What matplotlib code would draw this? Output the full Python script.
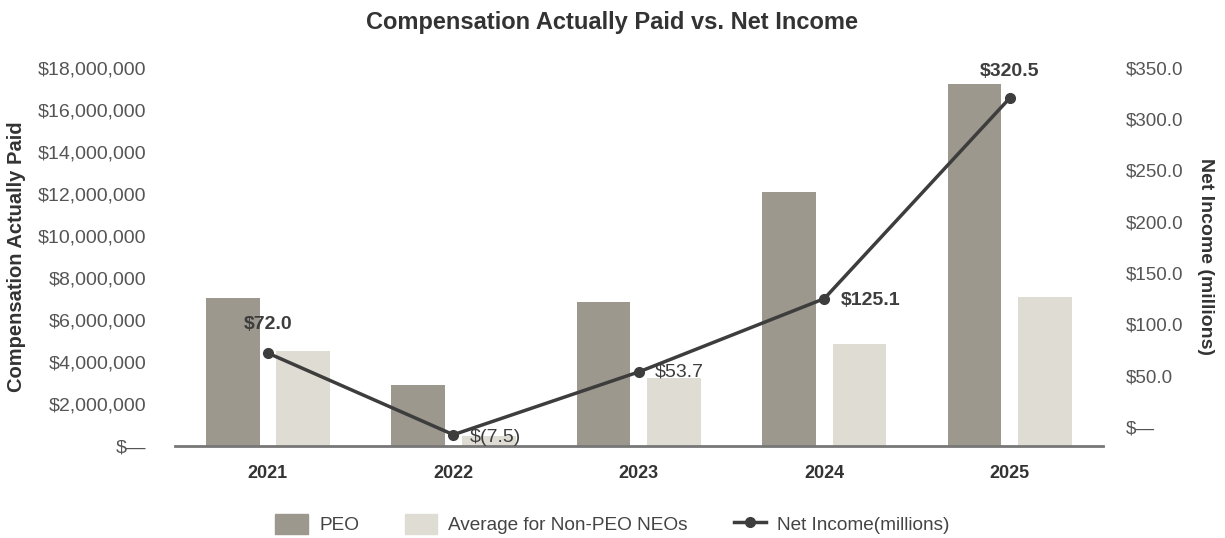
"""
Compensation Actually Paid vs. Net Income
"""

import numpy as np
import matplotlib.pyplot as plt
from matplotlib.patches import Patch
from matplotlib.lines import Line2D
from matplotlib.ticker import FuncFormatter

plt.rcParams["font.family"] = ["Liberation Sans", "DejaVu Sans"]

years = ["2021", "2022", "2023", "2024", "2025"]
peo_cap = [7050000, 2900000, 6850000, 12100000, 17250000]
neo_cap = [4520000, 490000, 3260000, 4860000, 7100000]
net_income = [72.0, -7.5, 53.7, 125.1, 320.5]
ni_labels = ["$72.0", "$(7.5)", "$53.7", "$125.1", "$320.5"]

PEO_COLOR = "#9d988d"
NEO_COLOR = "#dfdcd3"
LINE_COLOR = "#3d3d3d"
TEXT_COLOR = "#555555"


def left_fmt(v, pos):
    if v == 0:
        return "$\u2014"
    return "${:,.0f}".format(v)


def right_fmt(v, pos):
    if v == 0:
        return "$\u2014"
    return "${:.1f}".format(v)


def plot_cap_vs_net_income():
    fig = plt.figure(figsize=(12.25, 5.38), dpi=100)
    ax = fig.add_axes([0.143, 0.171, 0.757, 0.703])
    ax2 = ax.twinx()

    x = np.arange(len(years))
    w = 0.29
    ax.bar(x - 0.19, peo_cap, w, color=PEO_COLOR, zorder=2)
    ax.bar(x + 0.19, neo_cap, w, color=NEO_COLOR, zorder=2)

    ax.set_xlim(-0.5, len(years) - 0.5)
    ax.set_ylim(0, 18000000)
    ax.set_yticks(np.arange(0, 18000001, 2000000))
    ax.yaxis.set_major_formatter(FuncFormatter(left_fmt))
    ax.set_xticks(x)
    ax.set_xticklabels(years, fontsize=13, fontweight="bold", color="#333333")
    ax.tick_params(axis="x", length=0, pad=14)
    ax.tick_params(axis="y", length=0, labelsize=14, labelcolor=TEXT_COLOR, pad=21)
    for s in ["top", "right", "left"]:
        ax.spines[s].set_visible(False)
    ax.spines["bottom"].set_color("#777777")
    ax.spines["bottom"].set_linewidth(2)
    ax.set_ylabel("Compensation Actually Paid", fontsize=14.5, fontweight="bold",
                  color="#333333", labelpad=8)

    ax2.plot(x, net_income, color=LINE_COLOR, linewidth=2.5, marker="o",
             markersize=7, zorder=3)
    ax2.set_ylim(-18.5, 350)
    ax2.set_yticks(np.arange(0, 351, 50))
    ax2.yaxis.set_major_formatter(FuncFormatter(right_fmt))
    ax2.tick_params(axis="y", length=0, labelsize=13.5, labelcolor=TEXT_COLOR, pad=17)
    for s in ["top", "right", "left", "bottom"]:
        ax2.spines[s].set_visible(False)
    ax2.set_ylabel("Net Income (millions)", fontsize=14, fontweight="bold",
                   color="#333333", rotation=-90, labelpad=22)

    # data labels for net income
    offsets = [(0, 29, "center", "bold"), (16, -3, "left", "normal"),
               (16, 0, "left", "normal"), (16, -2, "left", "bold"),
               (0, 27, "center", "bold")]
    for i, (dx, dy, ha, fw) in enumerate(offsets):
        ax2.annotate(ni_labels[i], (x[i], net_income[i]), xytext=(dx, dy),
                     textcoords="offset pixels", ha=ha, va="center",
                     fontsize=14, fontweight=fw, color="#3d3d3d")

    fig.suptitle("Compensation Actually Paid vs. Net Income", fontsize=17,
                 fontweight="bold", color="#333333", y=0.98)

    handles = [Patch(color=PEO_COLOR), Patch(color=NEO_COLOR),
               Line2D([], [], color=LINE_COLOR, linewidth=2.5, marker="o", markersize=7)]
    fig.legend(handles, ["PEO", "Average for Non-PEO NEOs", "Net Income(millions)"],
               loc="lower center", bbox_to_anchor=(0.5, -0.025), ncol=3, frameon=False,
               fontsize=13.7, labelcolor="#444444", handlelength=1.7, handleheight=1.2,
               handletextpad=0.6, columnspacing=2.4)

    fig.savefig("out.png", dpi=100)


if __name__ == "__main__":
    plot_cap_vs_net_income()
